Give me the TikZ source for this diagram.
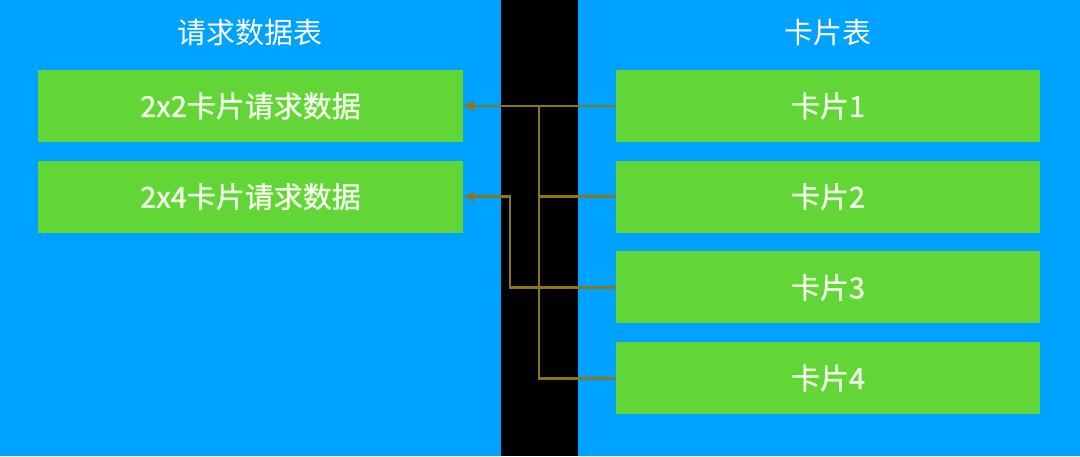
\documentclass[tikz,border=0pt]{standalone}
\usepackage{fontspec}
\newfontfamily\cjk{Noto Sans CJK SC}
\newfontfamily\cjkbold[FakeBold=1.2]{Noto Sans CJK SC}
\usetikzlibrary{positioning,arrows.meta}
\definecolor{panelblue}{RGB}{0,162,255}
\definecolor{boxgreen}{RGB}{98,214,54}
\definecolor{linkolive}{RGB}{140,118,22}
\definecolor{boxtext}{RGB}{242,255,232}

\begin{document}
\begin{tikzpicture}[x=0.02cm,y=-0.02cm,node distance=0.36cm,
    panel/.style={fill=panelblue,inner sep=0,minimum height=9.12cm},
    title/.style={text=white,font=\cjk\fontsize{16.5}{18}\selectfont},
    item/.style={fill=boxgreen,text=boxtext,inner sep=0,minimum width=8.5cm,minimum height=1.44cm,font=\cjkbold\fontsize{16.5}{18}\selectfont},
    link/.style={draw=linkolive,line width=1.7pt,-{Latex[length=6pt,width=6pt]}}]
    \fill[black](0,0)rectangle(1080,456);
    \node[panel,minimum width=10.02cm,anchor=north west](reqpanel) at (0,0){};
    \node[panel,minimum width=10.04cm,anchor=north east](cardpanel) at (1080,0){};
    \node[title](reqtitle) at (250,33){请求数据表};
    \node[title](cardtitle) at (828,33){卡片表};
    \node[item](req22) at (250.5,106){2x2卡片请求数据};
    \node[item,below=of req22](req24){2x4卡片请求数据};
    \node[item](card1) at (828,106){卡片1};
    \node[item,below=of card1](card2){卡片2};
    \node[item,below=of card2](card3){卡片3};
    \node[item,below=of card3](card4){卡片4};
    \coordinate(trunk) at (539,0);
    \coordinate(bend) at (510,0);
    \draw[link](card1.west)--(req22.east);
    \draw[link](card2.west)--(card2.west -| trunk)|-(req22.east);
    \draw[link](card4.west)--(card4.west -| trunk)|-(req22.east);
    \draw[link](card3.west)--(card3.west -| bend)|-(req24.east);
\end{tikzpicture}
\end{document}
